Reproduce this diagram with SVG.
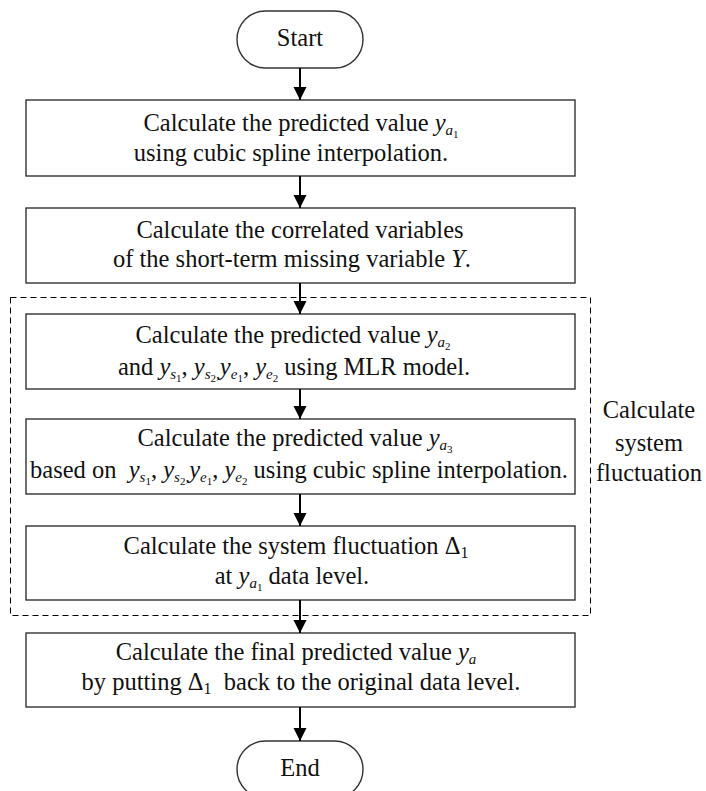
<svg xmlns="http://www.w3.org/2000/svg" width="706" height="791" viewBox="0 0 706 791">
<defs>
<marker id="ah" markerUnits="userSpaceOnUse" markerWidth="14" markerHeight="14" refX="13" refY="6.5" orient="auto">
<path d="M0,0 L13,6.5 L0,13 Z" fill="#000"/>
</marker>
</defs>
<style>
.box{fill:#fff;stroke:#333;stroke-width:1.4}
.term{fill:#fff;stroke:#333;stroke-width:1.4}
.dash{fill:none;stroke:#000;stroke-width:1;stroke-dasharray:6 4}
.t{font-family:"Liberation Serif","Times New Roman",serif;font-size:24.5px;fill:#111;text-anchor:middle}
.m{font-style:italic}
.s1{font-style:italic;font-size:15px}
.s2{font-size:11px}
.n1{font-size:16px}
.conn line{stroke:#000;stroke-width:2;marker-end:url(#ah)}
</style>
<rect width="706" height="791" fill="#fff"/>
<g id="group-fluctuation">
<rect class="dash" x="10.5" y="297.5" width="580" height="318"/>
<text class="t" x="649" y="418">Calculate</text>
<text class="t" x="649" y="451">system</text>
<text class="t" x="649" y="481">fluctuation</text>
</g>
<g id="start">
<rect class="term" x="237" y="11" width="126" height="57" rx="28.5" ry="28.5"/>
<text class="t" x="300" y="46">Start</text>
</g>
<g id="box1">
<rect class="box" x="26" y="100" width="549" height="76"/>
<text class="t" x="301" y="131">Calculate the predicted value <tspan class="m">y</tspan><tspan class="s1" dy="4">a</tspan><tspan class="s2" dy="3">1</tspan></text>
<text class="t" x="291" y="161">using cubic spline interpolation.</text>
</g>
<g id="box2">
<rect class="box" x="26" y="208" width="549" height="75"/>
<text class="t" x="300" y="238">Calculate the correlated variables</text>
<text class="t" x="292" y="267">of the short-term missing variable <tspan class="m">Y</tspan>.</text>
</g>
<g id="box3">
<rect class="box" x="26" y="314" width="549" height="75"/>
<text class="t" x="293" y="343">Calculate the predicted value <tspan class="m">y</tspan><tspan class="s1" dy="4">a</tspan><tspan class="s2" dy="3">2</tspan></text>
<text class="t" x="294" y="375">and <tspan class="m">y</tspan><tspan class="s1" dy="4">s</tspan><tspan class="s2" dy="3">1</tspan><tspan dy="-7">, </tspan><tspan class="m">y</tspan><tspan class="s1" dy="4">s</tspan><tspan class="s2" dy="3">2</tspan><tspan class="s1" dy="-3">,</tspan><tspan class="m" dy="-4">y</tspan><tspan class="s1" dy="4">e</tspan><tspan class="s2" dy="3">1</tspan><tspan dy="-7">, </tspan><tspan class="m">y</tspan><tspan class="s1" dy="4">e</tspan><tspan class="s2" dy="3">2</tspan><tspan dy="-7"> using MLR model.</tspan></text>
</g>
<g id="box4">
<rect class="box" x="26" y="419" width="549" height="75"/>
<text class="t" x="295" y="446">Calculate the predicted value <tspan class="m">y</tspan><tspan class="s1" dy="4">a</tspan><tspan class="s2" dy="3">3</tspan></text>
<text class="t" x="299" y="478">based on&#160; <tspan class="m">y</tspan><tspan class="s1" dy="4">s</tspan><tspan class="s2" dy="3">1</tspan><tspan dy="-7">, </tspan><tspan class="m">y</tspan><tspan class="s1" dy="4">s</tspan><tspan class="s2" dy="3">2</tspan><tspan class="s1" dy="-3">,</tspan><tspan class="m" dy="-4">y</tspan><tspan class="s1" dy="4">e</tspan><tspan class="s2" dy="3">1</tspan><tspan dy="-7">, </tspan><tspan class="m">y</tspan><tspan class="s1" dy="4">e</tspan><tspan class="s2" dy="3">2</tspan><tspan dy="-7"> using cubic spline interpolation.</tspan></text>
</g>
<g id="box5">
<rect class="box" x="26" y="526" width="549" height="74"/>
<text class="t" x="296" y="554">Calculate the system fluctuation Δ<tspan class="n1" dy="4">1</tspan></text>
<text class="t" x="292" y="584">at <tspan class="m">y</tspan><tspan class="s1" dy="4">a</tspan><tspan class="s2" dy="3">1</tspan><tspan dy="-7"> data level.</tspan></text>
</g>
<g id="box6">
<rect class="box" x="26" y="633" width="549" height="74"/>
<text class="t" x="296" y="660">Calculate the final predicted value <tspan class="m">y</tspan><tspan class="s1" dy="4">a</tspan></text>
<text class="t" x="301" y="690">by putting Δ<tspan class="n1" dy="4">1</tspan><tspan dy="-4">&#160; back to the original data level.</tspan></text>
</g>
<g id="end">
<rect class="term" x="237" y="741" width="126" height="57" rx="28.5" ry="28.5"/>
<text class="t" x="300" y="776">End</text>
</g>
<g id="connectors" class="conn">
<line x1="300" y1="68" x2="300" y2="100"/>
<line x1="300" y1="176" x2="300" y2="208"/>
<line x1="300" y1="283" x2="300" y2="314"/>
<line x1="300" y1="389" x2="300" y2="419"/>
<line x1="300" y1="494" x2="300" y2="526"/>
<line x1="300" y1="600" x2="300" y2="633"/>
<line x1="300" y1="707" x2="300" y2="741"/>
</g>
</svg>
